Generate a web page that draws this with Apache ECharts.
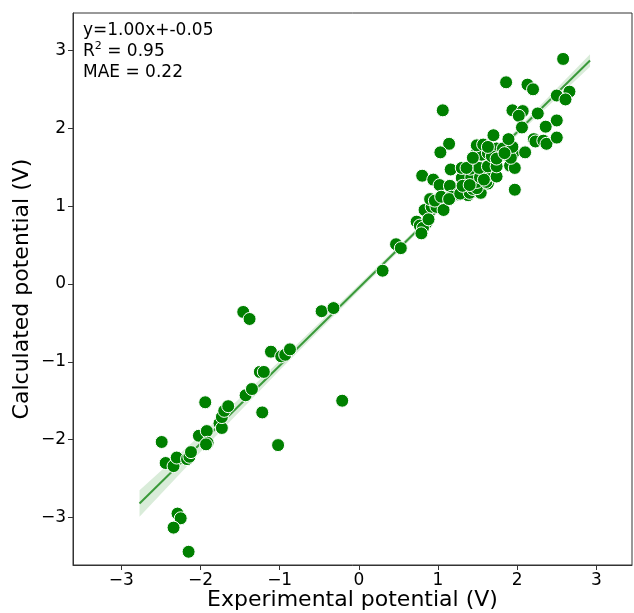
<!DOCTYPE html>
<html>
<head>
<meta charset="utf-8">
<script src="https://cdn.jsdelivr.net/npm/echarts/dist/echarts.min.js"></script>
<style>
  html, body { margin: 0; padding: 0; background: #fff; }
  #chart { width: 634px; height: 613px; }
</style>
</head>
<body>
<div id="chart"></div>
<script>
// experimental vs calculated potential (V)
var expX = [
  -2.49, -2.44, -2.34, -2.30, -2.17, -2.14, -2.12, -2.29, -2.25, -2.34, -2.15, -2.02,
  -1.94, -1.92, -1.91, -1.93, -1.76, -1.73, -1.73, -1.70, -1.65, -1.46, -1.38, -1.43,
  -1.35, -1.22, -1.25, -1.20, -1.11, -1.02, -0.98, -0.93, -0.87, -0.47, -0.32, -0.21,
  0.30, 0.47, 0.53,
  0.73, 0.85, 0.77, 0.81, 0.79, 0.83, 0.92, 0.98, 1.07, 0.94, 0.88, 0.90, 0.96, 0.80,
  0.94, 1.02, 1.15, 1.04, 1.15, 1.25, 1.38, 1.53, 1.17, 1.14, 1.28, 1.40, 1.54, 1.44,
  1.49, 1.63, 1.36, 1.49, 1.61, 1.30, 1.42, 1.53, 1.65, 1.74, 1.58, 1.31, 1.40, 1.97,
  1.16, 1.30, 1.41, 1.52, 1.63, 1.74, 1.91, 1.97, 1.36, 1.49, 1.55, 1.63, 1.78, 1.86,
  1.95, 1.44, 1.49, 1.57, 1.74, 1.82, 1.68, 1.74, 1.92, 1.63, 1.94,
  2.58, 1.86, 2.13, 2.20, 2.50, 2.66, 2.61, 1.06, 1.94, 2.07, 2.02, 2.26, 2.50, 2.36,
  2.06, 1.70, 2.21, 2.23, 2.33, 2.37, 2.50, 1.14, 1.03, 1.89, 2.10, 1.84
]
var calcY = [
  -2.03, -2.30, -2.34, -2.23, -2.25, -2.22, -2.16, -2.95, -3.01, -3.13, -3.44, -1.95,
  -1.52, -1.89, -2.04, -2.06, -1.79, -1.85, -1.71, -1.63, -1.57, -0.36, -0.45, -1.43,
  -1.35, -1.65, -1.13, -1.13, -0.87, -2.07, -0.93, -0.91, -0.84, -0.35, -0.31, -1.50,
  0.17, 0.51, 0.46,
  0.80, 0.78, 0.75, 0.72, 0.65, 0.95, 0.99, 0.99, 0.95, 1.08, 0.83, 1.09, 1.07, 1.39,
  1.34, 1.27, 1.26, 1.12, 1.10, 1.15, 1.14, 1.17, 1.12, 1.09, 1.16, 1.17, 1.17, 1.22,
  1.23, 1.29, 1.29, 1.31, 1.31, 1.36, 1.37, 1.37, 1.40, 1.38, 1.34, 1.26, 1.27, 1.21,
  1.47, 1.49, 1.48, 1.49, 1.51, 1.51, 1.52, 1.49, 1.49, 1.68, 1.66, 1.68, 1.67, 1.66,
  1.68, 1.62, 1.78, 1.79, 1.74, 1.74, 1.64, 1.61, 1.62, 1.76, 1.76,
  2.89, 2.59, 2.56, 2.50, 2.42, 2.47, 2.37, 2.23, 2.23, 2.22, 2.16, 2.19, 2.10, 2.02,
  2.01, 1.91, 1.86, 1.83, 1.84, 1.80, 1.88, 1.80, 1.69, 1.86, 1.69, 1.68
]

// fit y = slope*x + intercept, drawn over this x span
var slope = 1.00
var intercept = -0.05
var fitX = [-2.77, 2.92]
// confidence band half width along x
var bandX = [-2.77, -2.0, -1.0, 0.0, 1.0, 1.5, 2.0, 2.92]
var bandHalf = [0.17, 0.11, 0.06, 0.04, 0.03, 0.03, 0.04, 0.08]

var points = expX.map(function(x, i) { return [x, calcY[i]] })
var fitLine = fitX.map(function(x) { return [x, slope * x + intercept] })
var bandPoly = []
bandX.forEach(function(x, i) { bandPoly.push([x, slope * x + intercept + bandHalf[i]]) })
for (var i = bandX.length - 1; i >= 0; i--) {
  bandPoly.push([bandX[i], slope * bandX[i] + intercept - bandHalf[i]])
}

function minus(v) {
  if (Math.abs(v - Math.round(v)) > 1e-6) return ''
  return String(Math.round(v)).replace('-', '\u2212')
}

var fontFam = 'DejaVu Sans'
var myChart = echarts.init(document.getElementById('chart'))

var option = {
  backgroundColor: '#ffffff',
  animation: false,
  grid: {
    left: 73,
    right: 2,
    top: 13,
    bottom: 48,
    containLabel: false,
    outerBoundsMode: 'none',
    show: true,
    borderColor: '#333',
    borderWidth: 1
  },
  xAxis: {
    type: 'value',
    min: -3.61,
    max: 3.45,
    splitNumber: 7,
    name: 'Experimental potential (V)',
    nameLocation: 'middle',
    nameGap: 24,
    nameMoveOverlap: false,
    nameTextStyle: { color: '#000', fontSize: 22, fontFamily: fontFam },
    splitLine: { show: false },
    axisLine: { show: true, onZero: false, lineStyle: { color: '#333' } },
    axisTick: { show: true, length: 5, lineStyle: { color: '#333' } },
    axisLabel: {
      color: '#000',
      fontSize: 17,
      fontFamily: fontFam,
      margin: 7,
      showMinLabel: false,
      showMaxLabel: false,
      formatter: minus
    }
  },
  yAxis: {
    type: 'value',
    min: -3.61,
    max: 3.48,
    splitNumber: 7,
    name: 'Calculated potential (V)',
    nameLocation: 'middle',
    nameGap: 40,
    nameMoveOverlap: false,
    nameTextStyle: { color: '#000', fontSize: 22, fontFamily: fontFam },
    splitLine: { show: false },
    axisLine: { show: true, onZero: false, lineStyle: { color: '#333' } },
    axisTick: { show: true, length: 5, lineStyle: { color: '#333' } },
    axisLabel: {
      color: '#000',
      fontSize: 17,
      fontFamily: fontFam,
      margin: 7,
      showMinLabel: false,
      showMaxLabel: false,
      formatter: minus
    }
  },
  graphic: [{
    type: 'text',
    left: 83,
    top: 20,
    style: {
      text: 'y=1.00x+-0.05\n{r|R}{s|2}{r| = 0.95}\nMAE = 0.22',
      fill: '#000',
      font: '17px "DejaVu Sans"',
      lineHeight: 21,
      rich: {
        r: { fontSize: 17, fontFamily: fontFam, fill: '#000' },
        s: { fontSize: 11, fontFamily: fontFam, fill: '#000', verticalAlign: 'top', padding: [0, 0, 8, 0] }
      }
    }
  }],
  series: [
    {
      name: 'band',
      type: 'custom',
      silent: true,
      z: 1,
      renderItem: function(params, api) {
        var pts = bandPoly.map(function(p) { return api.coord(p) })
        return {
          type: 'polygon',
          shape: { points: pts },
          style: { fill: 'rgba(0,128,0,0.15)' }
        }
      },
      data: [0]
    },
    {
      name: 'fit',
      type: 'line',
      data: fitLine,
      symbol: 'none',
      z: 2,
      lineStyle: { color: '#3a9a3a', width: 2 }
    },
    {
      name: 'points',
      type: 'scatter',
      data: points,
      symbolSize: 13,
      z: 3,
      itemStyle: {
        color: '#008000',
        borderColor: '#ffffff',
        borderWidth: 1,
        opacity: 1
      }
    }
  ]
}

myChart.setOption(option)
window.addEventListener('resize', () => { myChart.resize() })
</script>
</body>
</html>
